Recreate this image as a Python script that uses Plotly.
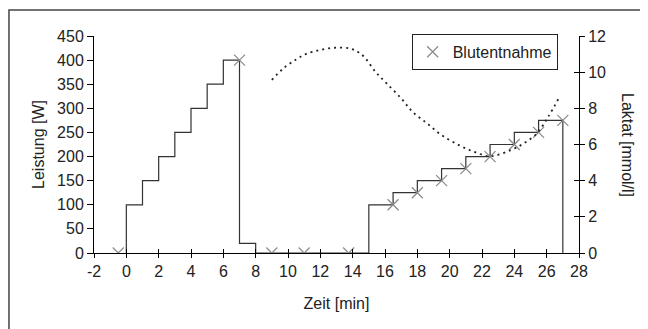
import plotly.graph_objects as go

# Power steps (W): time [min] and power level starting at that time
step_x = [0, 0, 1, 2, 3, 4, 5, 6, 7, 8, 15, 16.5, 18, 19.5, 21, 22.5, 24, 25.5, 27]
step_y = [0, 100, 150, 200, 250, 300, 350, 400, 20, 0, 100, 125, 150, 175, 200, 225, 250, 275, 0]

# Blood sampling points (time, power)
blood_x = [-0.5, 7, 9, 11, 13.75, 16.5, 18, 19.5, 21, 22.5, 24, 25.5, 27]
blood_y = [0, 400, 0, 0, 0, 100, 125, 150, 175, 200, 225, 250, 275]

# Lactate curve (mmol/l)
lac_x = [9.0, 9.7, 10.5, 11.1, 12.0, 12.9, 13.8, 14.3, 14.7, 15.4, 16.1, 17.0,
         17.7, 18.6, 19.5, 20.6, 21.5, 22.5, 23.8, 24.6, 25.4, 26.1, 26.8]
lac_y = [9.57, 10.2, 10.7, 11.0, 11.23, 11.35, 11.32, 11.13, 10.86, 10.03, 9.38, 8.55,
         7.81, 7.17, 6.52, 5.95, 5.6, 5.35, 5.7, 6.07, 6.62, 7.54, 8.64]

x_ticks = list(range(-2, 29, 2))
x_labels = [str(v) for v in x_ticks]
y_ticks = list(range(0, 451, 50))
y2_ticks = list(range(0, 13, 2))

FONT = "Liberation Sans, Arial, sans-serif"
FS = 16

fig = go.Figure()
fig.add_trace(go.Scatter(x=step_x, y=step_y, mode="lines", line=dict(shape="hv", color="#333333", width=1.2),
                         showlegend=False, hoverinfo="skip"))
fig.add_trace(go.Scatter(x=lac_x, y=lac_y, mode="lines", yaxis="y2",
                         line=dict(shape="spline", smoothing=1.0, color="#222222", width=1.8, dash="2px,4px"),
                         showlegend=False, hoverinfo="skip"))
fig.add_trace(go.Scatter(x=blood_x, y=blood_y, mode="markers", name="Blutentnahme",
                         marker=dict(symbol="x-thin", size=11, line=dict(color="#8a8a8a", width=1.2))))

axis_common = dict(showgrid=False, zeroline=False, showline=True, linecolor="black", linewidth=1,
                   tickfont=dict(family=FONT, size=FS, color="#222222"), tickcolor="black")

fig.update_layout(
    width=640, height=321,
    margin=dict(l=86, r=69, t=28, b=76),
    paper_bgcolor="white", plot_bgcolor="white",
    font=dict(family=FONT, size=FS, color="#222222"),
    xaxis=dict(range=[-2, 28], tickvals=x_ticks, ticktext=x_labels, ticks="outside", ticklen=4, **axis_common,
               title=dict(text="Zeit [min]", font=dict(family=FONT, size=FS), standoff=18)),
    xaxis2=dict(range=[-2, 28], tickvals=x_ticks, ticks="inside", ticklen=4, overlaying="x",
                anchor="y", side="bottom", showticklabels=False, showgrid=False, zeroline=False,
                showline=False, tickcolor="black"),
    yaxis=dict(range=[0, 450], tickvals=y_ticks, ticks="outside", ticklen=6, **axis_common,
               title=dict(text="Leistung [W]", font=dict(family=FONT, size=FS), standoff=8)),
    yaxis2=dict(range=[0, 12], tickvals=y2_ticks, ticks="outside", ticklen=5, overlaying="y",
                side="right", anchor="x", **axis_common),
    yaxis3=dict(range=[0, 12], tickvals=y2_ticks, ticks="inside", ticklen=5, overlaying="y",
                side="right", anchor="x", showticklabels=False, showgrid=False, zeroline=False,
                showline=False, tickcolor="black"),
    legend=dict(x=0.655, y=1.01, xanchor="left", yanchor="top", bgcolor="white",
                bordercolor="#222222", borderwidth=1, font=dict(family=FONT, size=FS),
                itemwidth=30, tracegroupgap=0),
    annotations=[dict(text="Laktat [mmol/l]", textangle=90, xref="paper", yref="paper",
                      x=1.10, y=0.5, xanchor="center", yanchor="middle", showarrow=False,
                      font=dict(family=FONT, size=FS, color="#222222"))],
    shapes=[dict(type="rect", xref="paper", yref="paper", x0=-0.1753, y0=-0.36, x1=1.16, y1=1.1198,
                 line=dict(color="#444444", width=1.5), layer="below")],
)

# invisible traces to activate helper axes for the crossing ticks
fig.add_trace(go.Scatter(x=[None], y=[None], xaxis="x2", showlegend=False, hoverinfo="skip"))
fig.add_trace(go.Scatter(x=[None], y=[None], yaxis="y3", showlegend=False, hoverinfo="skip"))

fig.write_html("out.html")
